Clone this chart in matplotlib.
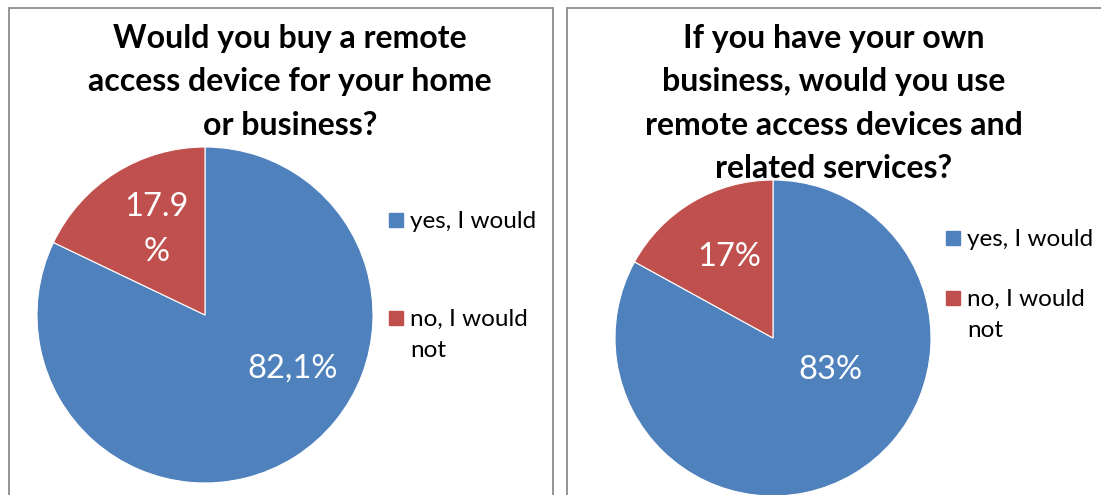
import matplotlib.pyplot as plt
from matplotlib.patches import Rectangle

# data
labels = ['yes, I would', 'no, I would\nnot']
colors = ['#4F81BD', '#C0504D']

title1 = 'Would you buy a remote\naccess device for your home\nor business?'
values1 = [82.1, 17.9]
pct_text1 = ['82,1%', '17.9\n%']

title2 = 'If you have your own\nbusiness, would you use\nremote access devices and\nrelated services?'
values2 = [83, 17]
pct_text2 = ['83%', '17%']

W, H = 1101, 495
plt.rcParams['font.family'] = ['Lato', 'DejaVu Sans']
fig = plt.figure(figsize=(W / 100, H / 100), dpi=100)


def fx(px):
    return px / W


def fy(py):
    return 1 - py / H


# panel borders
for x0, x1 in [(9, 553), (567, 1110)]:
    fig.patches.append(Rectangle((fx(x0), fy(520)), fx(x1 - x0), (520 - 8) / H,
                                 transform=fig.transFigure, fill=False,
                                 edgecolor='#8c8c8c', linewidth=1.3))


def draw_pie(cx, cy, r, values, texts, label_pos, title, title_x, title_y,
             leg_x, leg_y):
    ax = fig.add_axes([fx(cx - r), fy(cy + r), fx(2 * r), 2 * r / H])
    ax.pie(values, colors=colors, startangle=90, counterclock=False,
           wedgeprops=dict(edgecolor='white', linewidth=0.8))
    ax.set_xlim(-1, 1)
    ax.set_ylim(-1, 1)
    ax.axis('off')
    for t, (px, py) in zip(texts, label_pos):
        ax.text(px, py, t, color='white', fontsize=23.5, ha='center',
                va='center', linespacing=1.65)
    fig.text(fx(title_x), fy(title_y), title, ha='center', va='top',
             fontsize=23, fontweight='bold', linespacing=1.6)
    for lab, col, ly in zip(labels, colors, leg_y):
        fig.patches.append(Rectangle((fx(leg_x), fy(ly + 7)), fx(14), 14 / H,
                                     transform=fig.transFigure, color=col))
        fig.text(fx(leg_x + 21), fy(ly - 9), lab, ha='left', va='top',
                 fontsize=17.5, linespacing=1.6)


draw_pie(205, 315, 168, values1, pct_text1, [(0.52, -0.32), (-0.29, 0.51)],
         title1, 290, 24, 389, [220, 318])
draw_pie(773, 338, 158, values2, pct_text2, [(0.36, -0.20), (-0.28, 0.51)],
         title2, 834, 24, 946, [238, 298])

fig.savefig('out.png', dpi=100)
